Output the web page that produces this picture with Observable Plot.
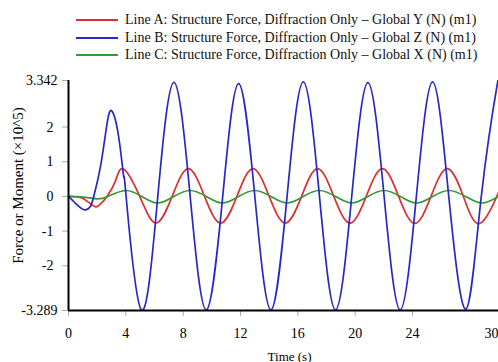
<!DOCTYPE html>
<html><head><meta charset="utf-8">
<script src="https://cdn.jsdelivr.net/npm/d3@7"></script>
<script src="https://cdn.jsdelivr.net/npm/@observablehq/plot@0.6"></script>
<style>
body{margin:0;background:#fff;}
#wrap{position:relative;width:498px;height:362px;overflow:hidden;font-family:"Liberation Serif","Times New Roman",serif;}
#legend{position:absolute;left:76px;top:11px;font-size:14px;color:#111;}
.row{display:flex;align-items:center;height:17.7px;white-space:nowrap;}
.swatch{width:42px;height:0;border-top:2px solid;margin-right:7px;}
</style></head><body><div id="wrap"><div id="legend"></div></div>
<script>
const seriesNames = [
  "Line A: Structure Force, Diffraction Only – Global Y (N) (m1)",
  "Line B: Structure Force, Diffraction Only – Global Z (N) (m1)",
  "Line C: Structure Force, Diffraction Only – Global X (N) (m1)"
];
const seriesColors = ["#dc3030", "#2828c8", "#339a33"];

const timeA = [0, 0.5, 0.97, 1.53, 1.94, 2.3, 2.69, 3.27, 3.84, 4.97, 6.10, 7.23, 8.36, 9.49, 10.62, 11.75, 12.87, 14.0, 15.13, 16.26, 17.38, 18.51, 19.64, 20.77, 21.90, 23.03, 24.16, 25.29, 26.42, 27.55, 28.68, 29.88, 30];
const valueA = [0, -0.01, -0.05, -0.21, -0.30, -0.19, 0, 0.44, 0.79, 0, -0.77, 0, 0.80, 0, -0.77, 0, 0.80, 0, -0.77, 0, 0.80, 0, -0.77, 0, 0.80, 0, -0.78, 0, 0.80, 0, -0.78, 0, 0.09];

const timeB = [0, 0.47, 0.85, 1.18, 1.53, 1.76, 2.23, 2.69, 3.03, 3.5, 3.85, 4.02, 5.08, 6.23, 7.36, 8.49, 9.61, 10.76, 11.87, 13.0, 14.12, 15.25, 16.38, 17.51, 18.63, 19.76, 20.89, 22.02, 23.14, 24.27, 25.40, 26.53, 27.72, 28.80, 29.95, 30];
const valueB = [0, -0.19, -0.33, -0.39, -0.29, 0, 0.86, 2.10, 2.46, 1.72, 0.57, 0, -3.27, 0, 3.29, 0, -3.27, 0, 3.25, 0, -3.27, 0, 3.30, 0, -3.27, 0, 3.28, 0, -3.27, 0, 3.30, 0, -3.25, 0, 3.32, 3.31];

const timeC = [0, 1.0, 2.0, 2.75, 3.98, 5.10, 6.22, 7.35, 8.48, 9.61, 10.74, 11.87, 12.99, 14.12, 15.25, 16.38, 17.50, 18.63, 19.76, 20.89, 22.02, 23.15, 24.28, 25.41, 26.54, 27.70, 28.85, 30];
const valueC = [0, -0.02, -0.07, 0, 0.17, 0, -0.19, 0, 0.17, 0, -0.19, 0, 0.17, 0, -0.19, 0, 0.17, 0, -0.19, 0, 0.17, 0, -0.19, 0, 0.17, 0, -0.19, 0];

const xTicks = [0, 4, 8, 12, 16, 20, 24];
const xTickLast = [30];
const yTicksEnds = [-3.289, 3.342];
const yTicksInner = [-2, -1, 0, 1, 2];
const xLabel = "Time (s)";
const yLabel = "Force or Moment (×10^5)";

const rows = [];
[[timeA, valueA, 0], [timeC, valueC, 2], [timeB, valueB, 1]].forEach(([ts, vs, k]) => {
  ts.forEach((t, i) => rows.push({t, v: vs[i], s: seriesNames[k]}));
});

const legend = document.getElementById("legend");
seriesNames.forEach((n, i) => {
  const r = document.createElement("div");
  r.className = "row";
  const sw = document.createElement("span");
  sw.className = "swatch";
  sw.style.borderTopColor = seriesColors[i];
  r.appendChild(sw);
  const tx = document.createElement("span");
  tx.textContent = n;
  r.appendChild(tx);
  legend.appendChild(r);
});

const yMin = yTicksEnds[0], yMax = yTicksEnds[1];

const chart = Plot.plot({
  width: 498, height: 362,
  marginLeft: 68, marginRight: 0, marginTop: 80, marginBottom: 52,
  style: {fontFamily: "'Liberation Serif','Times New Roman',serif", fontSize: "14px", color: "#000", background: "transparent"},
  x: {domain: [0, 30]},
  y: {domain: [yMin, yMax]},
  color: {domain: seriesNames, range: seriesColors},
  marks: [
    Plot.axisX(xTicks, {tickSize: 6, tickPadding: 12, stroke: "#aaa", fill: "#000", label: null, tickFormat: d => String(d)}),
    Plot.axisX(xTickLast, {tickSize: 0, tickPadding: 18, dx: -7, fill: "#000", label: null, tickFormat: d => String(d)}),
    Plot.axisY(yTicksEnds, {tickSize: 6, tickPadding: 5, stroke: "#aaa", fill: "#000", label: null, tickFormat: d => String(d)}),
    Plot.axisY(yTicksInner, {tickSize: 6, tickPadding: 9, stroke: "#aaa", fill: "#000", label: null, tickFormat: d => String(d)}),
    Plot.line(rows, {x: "t", y: "v", z: "s", stroke: "s", curve: "natural", strokeWidth: 1.7, clip: true}),
    Plot.ruleX([0], {stroke: "#000", strokeWidth: 2}),
    Plot.ruleY([yMin], {stroke: "#000", strokeWidth: 2}),
    Plot.text([yLabel], {frameAnchor: "left", textAnchor: "middle", rotate: -90, dx: -50, dy: -10, fontSize: 15, fill: "#000"}),
    Plot.text([xLabel], {frameAnchor: "bottom", textAnchor: "middle", lineAnchor: "bottom", dx: 6, dy: 50, fontSize: 13, fill: "#000"})
  ]
});
chart.style.position = "absolute";
chart.style.left = "0";
chart.style.top = "0";
document.getElementById("wrap").appendChild(chart);
</script>
</body></html>
